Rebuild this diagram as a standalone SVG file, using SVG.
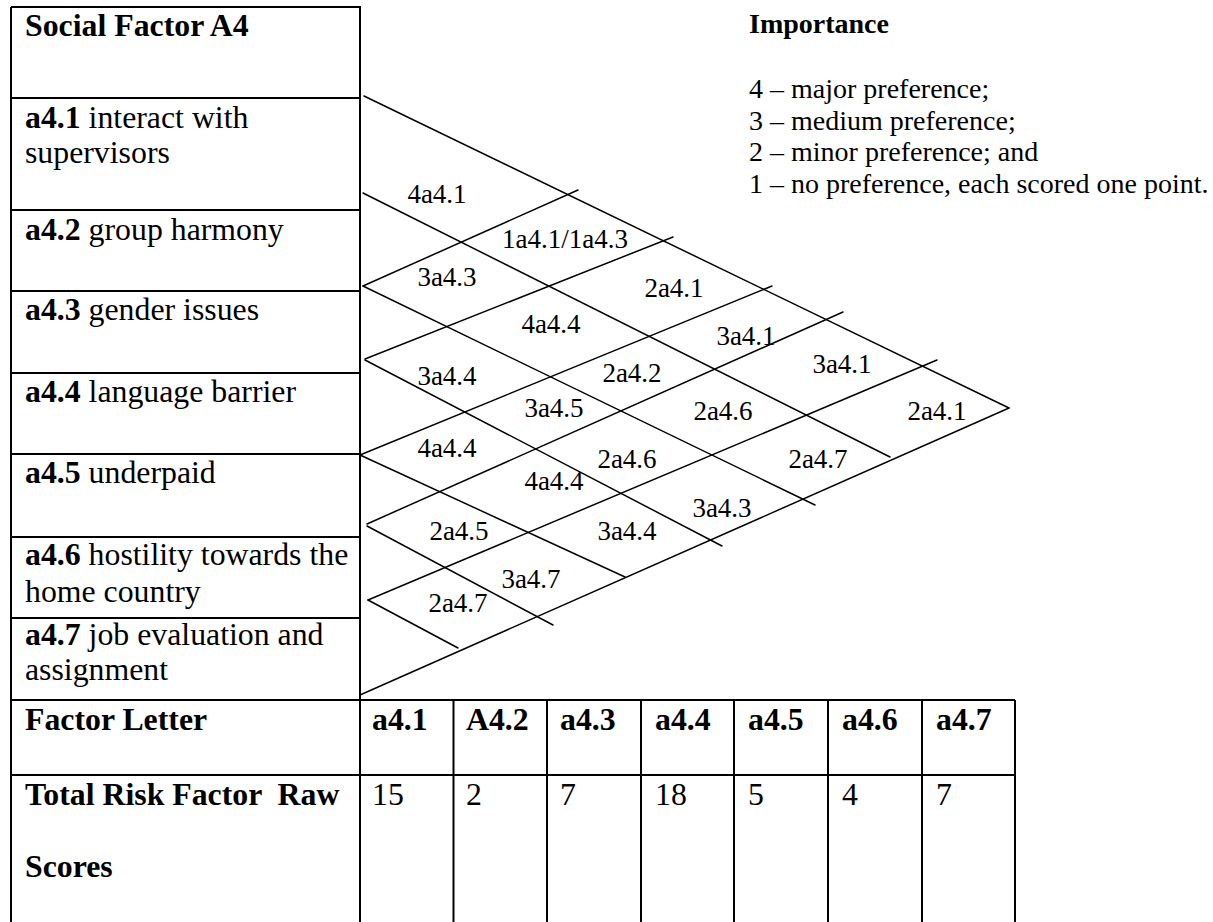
<svg xmlns="http://www.w3.org/2000/svg" width="1213" height="922" viewBox="0 0 1213 922">
  <style>
    text { font-family: "Liberation Serif", "Times New Roman", serif; fill: #000; }
    .t { font-size: 31.8px; }
    .b { font-weight: bold; }
    .lg { font-size: 28px; }
    .cell { font-size: 27px; text-anchor: middle; }
    .grid { stroke: #000; stroke-width: 2; fill: none; }
    .ln { stroke: #000; stroke-width: 1.5; fill: none; stroke-linecap: round; }
  </style>
  <rect width="1213" height="922" fill="#fff"/>

  <!-- factor list table -->
  <g id="factor-table">
    <path class="grid" d="M11 7 H360 V700 M11 7 V922 M11 98 H360 M11 210 H360 M11 291 H360 M11 373 H360 M11 454 H360 M11 537 H360 M11 618 H360"/>
    <text class="t b" x="25" y="36">Social Factor A4</text>
    <g id="row-a41"><text class="t" x="25" y="128"><tspan class="b">a4.1</tspan> interact with</text><text class="t" x="25" y="163">supervisors</text></g>
    <g id="row-a42"><text class="t" x="25" y="240"><tspan class="b">a4.2</tspan> group harmony</text></g>
    <g id="row-a43"><text class="t" x="25" y="320"><tspan class="b">a4.3</tspan> gender issues</text></g>
    <g id="row-a44"><text class="t" x="25" y="402"><tspan class="b">a4.4</tspan> language barrier</text></g>
    <g id="row-a45"><text class="t" x="25" y="483"><tspan class="b">a4.5</tspan> underpaid</text></g>
    <g id="row-a46"><text class="t" x="25" y="565"><tspan class="b">a4.6</tspan> hostility towards the</text><text class="t" x="25" y="602">home country</text></g>
    <g id="row-a47"><text class="t" x="25" y="645"><tspan class="b">a4.7</tspan> job evaluation and</text><text class="t" x="25" y="680">assignment</text></g>
  </g>

  <!-- importance legend -->
  <g id="legend">
    <text class="lg b" x="749" y="33">Importance</text>
    <text class="lg" x="749" y="98">4 – major preference;</text>
    <text class="lg" x="749" y="129.5">3 – medium preference;</text>
    <text class="lg" x="749" y="161">2 – minor preference; and</text>
    <text class="lg" x="749" y="192.5">1 – no preference, each scored one point.</text>
  </g>

  <!-- comparison triangle lines -->
  <g id="connectors">
    <line class="ln" x1="364" y1="96" x2="1009" y2="408"/>
    <line class="ln" x1="360" y1="695" x2="1009" y2="408"/>
    <line class="ln" x1="363" y1="193" x2="890" y2="457"/>
    <line class="ln" x1="363" y1="286" x2="815" y2="505"/>
    <line class="ln" x1="365" y1="360" x2="722" y2="546"/>
    <line class="ln" x1="360" y1="455" x2="625" y2="577"/>
    <line class="ln" x1="367" y1="526" x2="553" y2="625"/>
    <line class="ln" x1="368" y1="600" x2="458" y2="648"/>
    <line class="ln" x1="363" y1="286" x2="578" y2="190"/>
    <line class="ln" x1="365" y1="359" x2="673" y2="237"/>
    <line class="ln" x1="360" y1="455" x2="772" y2="286"/>
    <line class="ln" x1="367" y1="524" x2="843" y2="312"/>
    <line class="ln" x1="368" y1="600" x2="937" y2="360"/>
  </g>

  <!-- pairwise scores -->
  <g id="scores">
    <text class="cell" x="437" y="203">4a4.1</text>
    <text class="cell" x="565" y="248">1a4.1/1a4.3</text>
    <text class="cell" x="447" y="286">3a4.3</text>
    <text class="cell" x="674" y="297">2a4.1</text>
    <text class="cell" x="551" y="333">4a4.4</text>
    <text class="cell" x="746" y="345">3a4.1</text>
    <text class="cell" x="842" y="373">3a4.1</text>
    <text class="cell" x="447" y="385">3a4.4</text>
    <text class="cell" x="632" y="382">2a4.2</text>
    <text class="cell" x="554" y="417">3a4.5</text>
    <text class="cell" x="723" y="420">2a4.6</text>
    <text class="cell" x="937" y="420">2a4.1</text>
    <text class="cell" x="447" y="457">4a4.4</text>
    <text class="cell" x="627" y="468">2a4.6</text>
    <text class="cell" x="818" y="468">2a4.7</text>
    <text class="cell" x="554" y="490">4a4.4</text>
    <text class="cell" x="722" y="517">3a4.3</text>
    <text class="cell" x="459" y="540">2a4.5</text>
    <text class="cell" x="627" y="540">3a4.4</text>
    <text class="cell" x="531" y="588">3a4.7</text>
    <text class="cell" x="458" y="612">2a4.7</text>
  </g>

  <!-- totals table -->
  <g id="totals-table">
    <path class="grid" d="M11 700 H1015 M11 775 H1015 M360 700 V922 M453.5 700 V922 M547 700 V922 M641 700 V922 M734 700 V922 M828 700 V922 M922 700 V922 M1015 700 V922"/>
    <text class="t b" x="25" y="730">Factor Letter</text>
    <text class="t b" x="25" y="805" style="white-space:pre">Total Risk Factor  Raw</text>
    <text class="t b" x="25" y="877">Scores</text>
    <g class="t b">
      <text x="372" y="730">a4.1</text>
      <text x="466" y="730">A4.2</text>
      <text x="560" y="730">a4.3</text>
      <text x="655" y="730">a4.4</text>
      <text x="748" y="730">a4.5</text>
      <text x="842" y="730">a4.6</text>
      <text x="936" y="730">a4.7</text>
    </g>
    <g class="t">
      <text x="372" y="805">15</text>
      <text x="466" y="805">2</text>
      <text x="560" y="805">7</text>
      <text x="655" y="805">18</text>
      <text x="748" y="805">5</text>
      <text x="842" y="805">4</text>
      <text x="936" y="805">7</text>
    </g>
  </g>
</svg>
